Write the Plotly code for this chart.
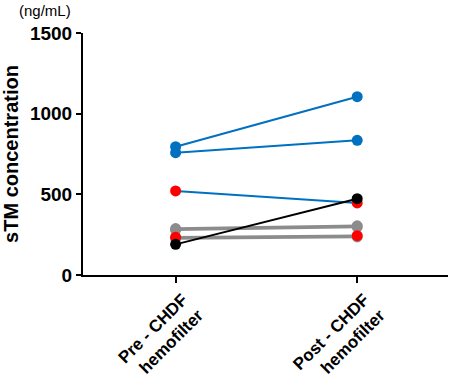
import plotly.graph_objects as go

categories = ["Pre - CHDF<br>hemofilter", "Post - CHDF<br>hemofilter"]

gray_series = [[288, 305], [280, 297], [226, 236]]
red_gray_series = [234, 244]
blue_series = [[795, 1105], [758, 835]]
red_blue_series = [521, 447]
black_series = [190, 473]

y_ticks = [0, 500, 1000, 1500]

fig = go.Figure()

def add(vals, line_color, marker_color, width):
    fig.add_trace(go.Scatter(
        x=categories, y=vals, mode="lines+markers",
        line=dict(color=line_color, width=width),
        marker=dict(color=marker_color, size=11),
        showlegend=False, hoverinfo="skip"))

for s in gray_series:
    add(s, "#8c8c8c", "#8c8c8c", 2.5)
add(red_gray_series, "#8c8c8c", "#ff0000", 2.5)
for s in blue_series:
    add(s, "#0070c0", "#0070c0", 2)
add(red_blue_series, "#0070c0", "#ff0000", 2)
add(black_series, "#000000", "#000000", 2)

FONT = "Liberation Sans, Arial"

fig.update_layout(
    width=449, height=385,
    margin=dict(l=83, r=1, t=33, b=110),
    plot_bgcolor="white", paper_bgcolor="white",
    font=dict(family=FONT, color="black"),
    xaxis=dict(
        type="category", range=[-0.51, 1.5], automargin=False,
        showline=True, linecolor="black", linewidth=2,
        ticks="outside", ticklen=6, tickwidth=1.5, tickcolor="black",
        tickangle=-45, showgrid=False, ticklabelshift=7,
        tickfont=dict(size=17, family=FONT, weight="bold"),
    ),
    yaxis=dict(
        range=[0, 1500], tickvals=y_ticks, automargin=False,
        showline=True, linecolor="black", linewidth=2,
        ticks="outside", ticklen=5, tickwidth=1.5, tickcolor="black",
        showgrid=False, zeroline=False,
        tickfont=dict(size=19, family=FONT, weight="bold"),
        title=dict(text="sTM concentration", standoff=6,
                   font=dict(size=20, family=FONT, weight="bold")),
    ),
    annotations=[dict(text="(ng/mL)", xref="paper", yref="paper",
                      x=-0.104, y=1.091, yanchor="middle", xanchor="center",
                      showarrow=False, font=dict(size=15, family=FONT))],
)

fig.write_html("out.html", config={"displayModeBar": False},
               post_script="document.body.style.margin='0';document.body.style.overflow='hidden';")
